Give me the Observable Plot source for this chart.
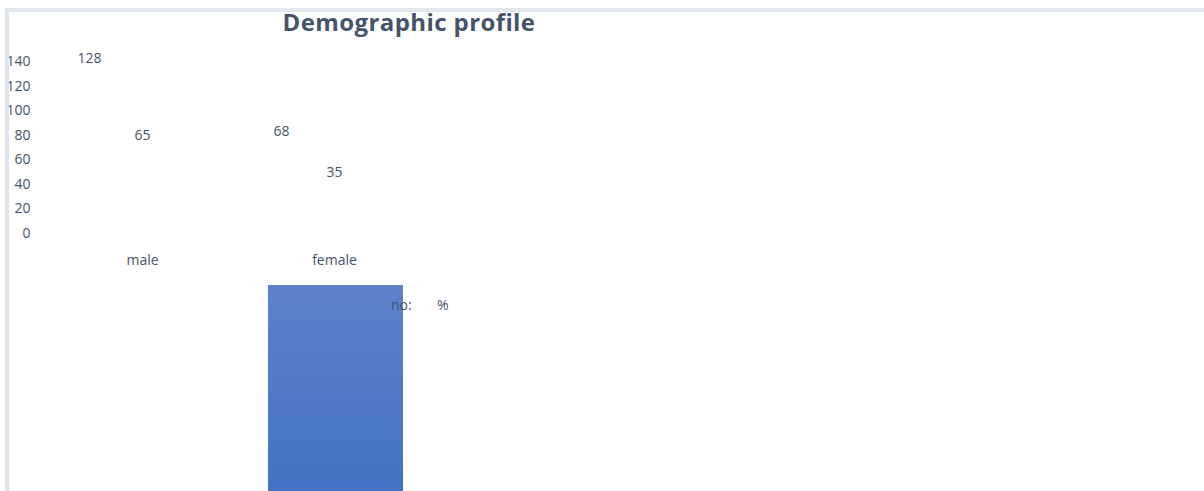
<!DOCTYPE html>
<html>
<head>
<meta charset="utf-8">
<script src="https://cdn.jsdelivr.net/npm/d3@7"></script>
<script src="https://cdn.jsdelivr.net/npm/@observablehq/plot@0.6"></script>
<style>
  html, body { margin: 0; padding: 0; background: #fff; overflow: hidden; }
  #wrap { position: relative; width: 1204px; height: 491px; font-family: "Open Sans", Lato, sans-serif; }
  #frame { position: absolute; left: 5px; top: 8px; right: 0; bottom: -10px;
           border-left: 4px solid #dfe4ec; border-top: 4px solid #e3e7ee; pointer-events: none; }
  #title { position: absolute; left: 0; top: 5px; width: 818px; text-align: center;
           font-size: 24px; font-weight: 700; color: #44546a; letter-spacing: 0.4px; }
  #legend { position: absolute; left: 0; top: 0; width: 1204px; height: 491px; pointer-events: none; }
  .sw { position: absolute; left: 268px; top: 285px; width: 135px; height: 206px;
        background: linear-gradient(#5d82ca, #4472c4); }
  .lg { position: absolute; top: 295px; font-size: 14px; color: #44546a; }
  #chart { position: absolute; left: 0; top: 0; }
</style>
</head>
<body>
<div id="wrap">
  <div id="chart"></div>
  <div id="legend"></div>
  <div id="frame"></div>
  <div id="title">Demographic profile</div>
</div>
<script>
const categories = ["male", "female"];
const seriesNames = ["no:", "%"];
const countValues = [128, 68];
const percentValues = [65, 35];
const yTicks = [0, 20, 40, 60, 80, 100, 120, 140];

const countData = categories.map((c, i) => ({category: c, value: countValues[i]}));
const percentData = categories.map((c, i) => ({category: c, value: percentValues[i]}));

const textColor = "#44546a";

const chart = Plot.plot({
  width: 1204,
  height: 491,
  marginLeft: 33,
  marginTop: 0,
  marginRight: 0,
  marginBottom: 0,
  style: {fontFamily: "'Open Sans', Lato, sans-serif", fontSize: "14px", color: textColor, background: "transparent"},
  x: {type: "band", domain: categories, range: [46, 430], padding: 0, axis: null},
  y: {domain: [0, 140], range: [233, 61], axis: null},
  marks: [
    Plot.axisY({ticks: yTicks, tickSize: 0, tickPadding: 3, fontSize: 14, fill: textColor, label: null}),
    Plot.text(categories, {x: d => d, y: 0, dy: 27, text: d => d, fontSize: 14, fill: textColor}),
    Plot.text(countData, {x: "category", y: "value", dx: -53, dy: -18, text: d => String(d.value), fontSize: 14, fill: textColor}),
    Plot.text(percentData, {x: "category", y: "value", dy: -18, text: d => String(d.value), fontSize: 14, fill: textColor})
  ]
});
document.getElementById("chart").appendChild(chart);

// legend
const legend = document.getElementById("legend");
const sw = document.createElement("div");
sw.className = "sw";
legend.appendChild(sw);
const lgX = [391, 437];
seriesNames.forEach((name, i) => {
  const s = document.createElement("span");
  s.className = "lg";
  s.style.left = lgX[i] + "px";
  s.textContent = name;
  legend.appendChild(s);
});
</script>
</body>
</html>
